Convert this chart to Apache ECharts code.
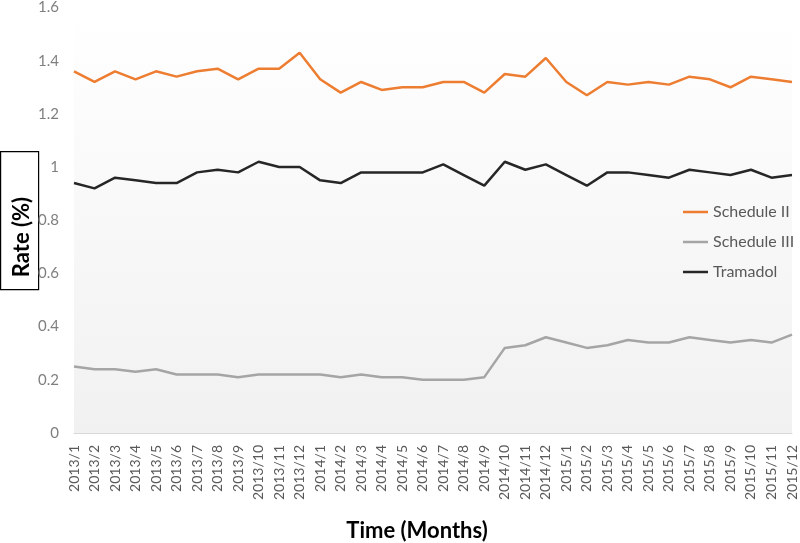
<!DOCTYPE html>
<html>
<head>
<meta charset="utf-8">
<script src="https://cdn.jsdelivr.net/npm/echarts@6/dist/echarts.min.js"></script>
<style>html,body{margin:0;padding:0;background:#fff}#c{width:800px;height:543px}</style>
</head>
<body>
<div id="c"></div>
<script>
var categories = [
  '2013/1','2013/2','2013/3','2013/4','2013/5','2013/6','2013/7','2013/8','2013/9','2013/10','2013/11','2013/12',
  '2014/1','2014/2','2014/3','2014/4','2014/5','2014/6','2014/7','2014/8','2014/9','2014/10','2014/11','2014/12',
  '2015/1','2015/2','2015/3','2015/4','2015/5','2015/6','2015/7','2015/8','2015/9','2015/10','2015/11','2015/12'
];
var scheduleII = [1.36,1.32,1.36,1.33,1.36,1.34,1.36,1.37,1.33,1.37,1.37,1.43,
                  1.33,1.28,1.32,1.29,1.30,1.30,1.32,1.32,1.28,1.35,1.34,1.41,
                  1.32,1.27,1.32,1.31,1.32,1.31,1.34,1.33,1.30,1.34,1.33,1.32];
var scheduleIII = [0.25,0.24,0.24,0.23,0.24,0.22,0.22,0.22,0.21,0.22,0.22,0.22,
                   0.22,0.21,0.22,0.21,0.21,0.20,0.20,0.20,0.21,0.32,0.33,0.36,
                   0.34,0.32,0.33,0.35,0.34,0.34,0.36,0.35,0.34,0.35,0.34,0.37];
var tramadol = [0.94,0.92,0.96,0.95,0.94,0.94,0.98,0.99,0.98,1.02,1.00,1.00,
                0.95,0.94,0.98,0.98,0.98,0.98,1.01,0.97,0.93,1.02,0.99,1.01,
                0.97,0.93,0.98,0.98,0.97,0.96,0.99,0.98,0.97,0.99,0.96,0.97];
var yTicks = {min: 0, max: 1.6, interval: 0.2};

var chart = echarts.init(document.getElementById('c'), null, {renderer: 'canvas'});
var font = 'Lato, "Open Sans", sans-serif';
function line(name, data, color) {
  return {
    name: name, type: 'line', data: data, symbol: 'none', smooth: false,
    lineStyle: {color: color, width: 2.5}, itemStyle: {color: color}
  };
}
chart.setOption({
  animation: false,
  grid: {
    left: 74, right: 8, top: 6, bottom: 110, show: true, borderWidth: 0,
    backgroundColor: new echarts.graphic.LinearGradient(0, 0, 0, 1, [
      {offset: 0, color: '#ffffff'}, {offset: 1, color: '#f1f1f1'}
    ])
  },
  legend: {
    orient: 'vertical', left: 683, top: 203, padding: 0, icon: 'rect', itemWidth: 25, itemHeight: 2.5,
    itemGap: 12,
    textStyle: {color: '#595959', fontSize: 16, fontFamily: font, lineHeight: 18},
    data: ['Schedule II', 'Schedule III', 'Tramadol']
  },
  xAxis: {
    type: 'category', data: categories, boundaryGap: false,
    axisLine: {show: true, lineStyle: {color: '#d9d9d9', width: 1}},
    axisTick: {show: false},
    axisLabel: {rotate: 90, interval: 0, color: '#595959', fontSize: 14, fontFamily: font, margin: 12}
  },
  yAxis: {
    type: 'value', min: yTicks.min, max: yTicks.max, interval: yTicks.interval,
    axisLine: {show: false}, axisTick: {show: false}, splitLine: {show: false},
    axisLabel: {color: '#7f7f7f', fontSize: 15, fontFamily: font, margin: 15}
  },
  graphic: [
    {type: 'rect', left: 0, top: 151, shape: {width: 38, height: 138},
     style: {fill: '#ffffff', stroke: '#000000', lineWidth: 1.2}},
    {type: 'text', x: 22, y: 237, rotation: Math.PI / 2,
     style: {text: 'Rate (%)', fill: '#000', font: 'bold 22px ' + font, align: 'center', verticalAlign: 'middle'}},
    {type: 'text', x: 417, y: 531,
     style: {text: 'Time (Months)', fill: '#000', font: 'bold 22px ' + font, align: 'center', verticalAlign: 'middle'}}
  ],
  series: [
    line('Schedule II', scheduleII, '#ED7D31'),
    line('Schedule III', scheduleIII, '#A5A5A5'),
    line('Tramadol', tramadol, '#262626')
  ]
});
</script>
</body>
</html>
